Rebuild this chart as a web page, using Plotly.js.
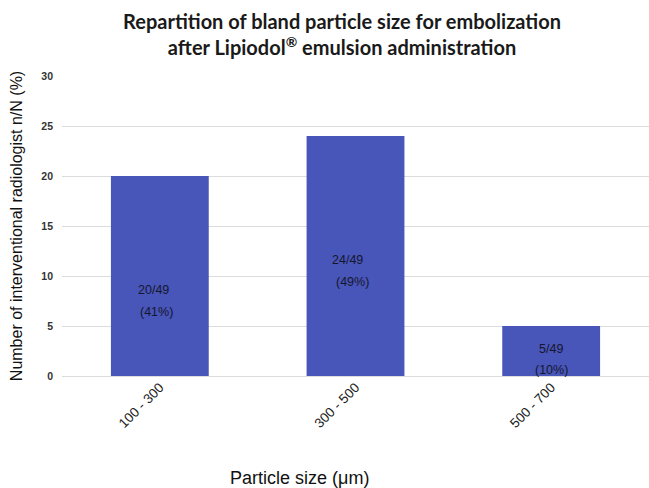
<!DOCTYPE html>
<html>
<head>
<meta charset="utf-8">
<script src="https://cdn.plot.ly/plotly-3.0.1.min.js"></script>
<style>html,body{margin:0;padding:0;background:#fff;}#chart{width:649px;height:488px;}</style>
</head>
<body>
<div id="chart"></div>
<script>
const categories = ["100 - 300", "300 - 500", "500 - 700"];
const values = [20, 24, 5];
const countLabels = ["20/49", "24/49", "5/49"];
const percentLabels = ["(41%)", "(49%)", "(10%)"];
const yTicks = [0, 5, 10, 15, 20, 25, 30];

// label placement styling (pixel shifts relative to bar middle)
const countShift = [-14, -4, 2];
const pctShift = [-36, -26, -19];
const countXShift = [-6, -8, 0];
const pctXShift = [-3, -3, 0];

const trace = {
  type: "bar",
  x: categories,
  y: values,
  marker: {color: "#4855b9", line: {width: 0}},
  hoverinfo: "none"
};

const labelFont = {family: "Liberation Sans, Arial, sans-serif", size: 12.5, color: "#15172e"};
const annotations = [];
categories.forEach((c, i) => {
  annotations.push({
    x: c, y: values[i] / 2, xref: "x", yref: "y",
    text: countLabels[i], showarrow: false, font: labelFont,
    xanchor: "center", yanchor: "middle",
    yshift: countShift[i], xshift: countXShift[i]
  });
  annotations.push({
    x: c, y: values[i] / 2, xref: "x", yref: "y",
    text: percentLabels[i], showarrow: false, font: labelFont,
    xanchor: "center", yanchor: "middle",
    yshift: pctShift[i], xshift: pctXShift[i]
  });
});
annotations.push({
  text: "Particle size (μm)",
  xref: "paper", yref: "paper",
  x: 0.405, y: -0.34,
  xanchor: "center", yanchor: "middle",
  showarrow: false,
  font: {family: "Liberation Sans, Arial, sans-serif", size: 18, color: "#111"}
});

const layout = {
  width: 649,
  height: 488,
  margin: {l: 62, r: 0, t: 76, b: 112},
  paper_bgcolor: "#ffffff",
  plot_bgcolor: "#ffffff",
  bargap: 0.5,
  showlegend: false,
  title: {
    text: "<b>Repartition of bland particle size for embolization<br>after Lipiodol<sup>®</sup> emulsion administration</b>",
    font: {family: "Lato, Open Sans, sans-serif", size: 20, color: "#1a1a1a"},
    x: 0.527, xanchor: "center",
    y: 0.94, yanchor: "top"
  },
  xaxis: {
    type: "category",
    range: [-0.5, 2.5],
    tickangle: -45,
    tickfont: {family: "Liberation Sans, Arial, sans-serif", size: 13.5, color: "#222"},
    showgrid: false,
    showline: false,
    ticks: "",
    fixedrange: true
  },
  yaxis: {
    range: [0, 30],
    tickvals: yTicks,
    ticktext: yTicks.map(String),
    tickfont: {family: "Liberation Sans, Arial, sans-serif", size: 10.5, color: "#333", weight: "bold"},
    ticklabelstandoff: 8,
    showgrid: true,
    gridcolor: "#dcdcdc",
    gridwidth: 1,
    zeroline: true,
    zerolinecolor: "#dcdcdc",
    zerolinewidth: 1,
    ticks: "",
    title: {
      text: "Number of interventional radiologist n/N (%)",
      font: {family: "Liberation Sans, Arial, sans-serif", size: 16, color: "#111"},
      standoff: 14
    },
    fixedrange: true
  },
  annotations: annotations
};

Plotly.newPlot("chart", [trace], layout, {displayModeBar: false, staticPlot: true});
</script>
</body>
</html>
